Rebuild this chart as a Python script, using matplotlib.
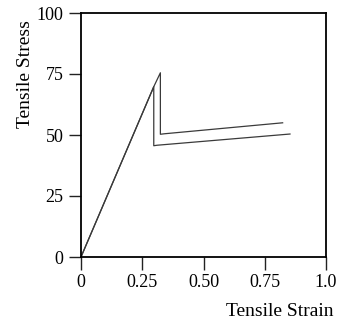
import matplotlib.pyplot as plt

# curve that yields at the upper peak
strain_a = [0, 0.297, 0.324, 0.324, 0.34, 0.823]
stress_a = [0, 69.8, 75.5, 50.3, 50.5, 55.0]
# curve that drops directly
strain_b = [0, 0.297, 0.297, 0.31, 0.853]
stress_b = [0, 69.8, 45.6, 45.8, 50.4]

xticks = [0, 0.25, 0.5, 0.75, 1.0]
xlabels = ['0', '0.25', '0.50', '0.75', '1.0']
yticks = [0, 25, 50, 75, 100]

plt.rcParams['font.family'] = ['Liberation Serif', 'DejaVu Serif']
fig = plt.figure(figsize=(3.42, 3.24), dpi=100)
ax = fig.add_axes([81/342, 1-257/324, 245/342, 244/324])
ax.plot(strain_a, stress_a, color='#3a3a3a', lw=0.9)
ax.plot(strain_b, stress_b, color='#3a3a3a', lw=0.9)
ax.set_xlim(0, 1.0); ax.set_ylim(0, 100)
ax.set_xticks(xticks); ax.set_xticklabels(xlabels)
ax.set_yticks(yticks)
ax.tick_params(direction='out', length=9, width=1, labelsize=13, pad=3.5, color='#222222')
for s in ax.spines.values():
    s.set_linewidth(1.3)
fig.text(0.974, 1-311/324, 'Tensile Strain', ha='right', va='center', fontsize=14)
fig.text(26/342, 1-74/324, 'Tensile Stress', ha='center', va='center', rotation=90, fontsize=14)
fig.savefig('out.png', dpi=100)
